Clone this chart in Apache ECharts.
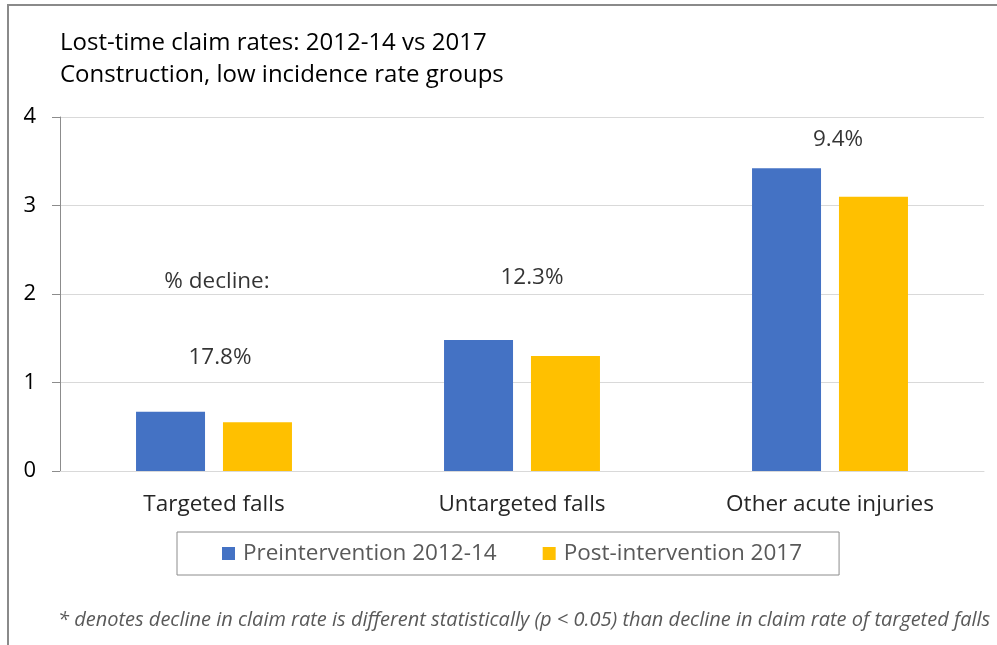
<!DOCTYPE html>
<html>
<head>
<meta charset="utf-8">
<script src="https://cdn.jsdelivr.net/npm/echarts@6/dist/echarts.min.js"></script>
<style>
html,body{margin:0;padding:0;background:#fff;}
#chart{width:997px;height:645px;}
</style>
</head>
<body>
<div id="chart"></div>
<script>
const categories = ['Targeted falls', 'Untargeted falls', 'Other acute injuries'];
const seriesNames = ['Preintervention 2012-14', 'Post-intervention 2017'];
const preValues = [0.67, 1.48, 3.42];
const postValues = [0.55, 1.30, 3.10];
const yTicks = [0, 1, 2, 3, 4];
const annotationTexts = ['% decline:', '17.8%', '12.3%', '9.4%'];
const annotationCats = [0, 0, 1, 2];
const annotationY = [2.14, 1.285, 2.19, 3.75];
const titleLines = ['Lost-time claim rates: 2012-14 vs 2017', 'Construction, low incidence rate groups'];
const footnote = '* denotes decline in claim rate is different statistically (p < 0.05) than decline in claim rate of targeted falls';

const FONT = '"Open Sans", sans-serif';
const annotationOffsets = [[3, 0], [6, 0], [10, 0], [8, 0]];

const chart = echarts.init(document.getElementById('chart'), null, {renderer: 'canvas'});
chart.setOption({
  animation: false,
  backgroundColor: '#fff',
  textStyle: {fontFamily: FONT},
  title: {
    text: titleLines.join('\n'),
    left: 55,
    top: 22,
    textStyle: {fontFamily: FONT, fontSize: 24, fontWeight: 'normal', color: '#000', lineHeight: 32}
  },
  grid: {left: 60, right: 13, top: 117, bottom: 174, containLabel: false},
  legend: {
    data: seriesNames,
    left: 177,
    top: 532,
    padding: [10, 37, 10, 45],
    itemGap: 46,
    itemWidth: 13,
    itemHeight: 13,
    icon: 'rect',
    borderColor: '#8c8c8c',
    borderWidth: 1,
    textStyle: {fontFamily: FONT, fontSize: 22.5, color: '#595959', padding: [0, 0, 0, 3]}
  },
  xAxis: {
    type: 'category',
    data: categories,
    axisLine: {show: true, lineStyle: {color: '#d9d9d9', width: 1}},
    axisTick: {show: false},
    axisLabel: {fontFamily: FONT, fontSize: 22.5, color: '#262626', margin: 22}
  },
  yAxis: {
    type: 'value',
    min: yTicks[0],
    max: yTicks[yTicks.length - 1],
    interval: 1,
    axisLine: {show: true, lineStyle: {color: '#8c8c8c', width: 1}},
    axisTick: {show: true, length: 8, lineStyle: {color: '#8c8c8c'}},
    axisLabel: {fontFamily: FONT, fontSize: 22, color: '#000', margin: 24},
    splitLine: {show: true, lineStyle: {color: '#d9d9d9', width: 1}}
  },
  series: [
    {
      name: seriesNames[0], type: 'bar', data: preValues,
      barWidth: 69, barGap: '26%',
      itemStyle: {color: '#4472C4'}
    },
    {
      name: seriesNames[1], type: 'bar', data: postValues,
      barWidth: 69, barGap: '26%',
      itemStyle: {color: '#FFC000'}
    },
    {
      type: 'scatter',
      symbolSize: 0,
      silent: true,
      data: annotationTexts.map((t, i) => ({
        value: [annotationCats[i], annotationY[i]],
        label: {offset: annotationOffsets[i]}
      })),
      label: {
        show: true,
        position: 'inside',
        formatter: p => annotationTexts[p.dataIndex],
        fontFamily: FONT, fontSize: 22.5, color: '#000'
      }
    }
  ],
  graphic: [
    {
      type: 'polyline',
      shape: {points: [[8, 645], [8, 5], [997, 5]]},
      style: {stroke: '#8a8a8a', lineWidth: 2, fill: null},
      silent: true
    },
    {
      type: 'text',
      left: 58,
      top: 610,
      style: {text: footnote, fontFamily: FONT, fontStyle: 'italic', fontSize: 20, fill: '#595959'}
    }
  ]
});
</script>
</body>
</html>
